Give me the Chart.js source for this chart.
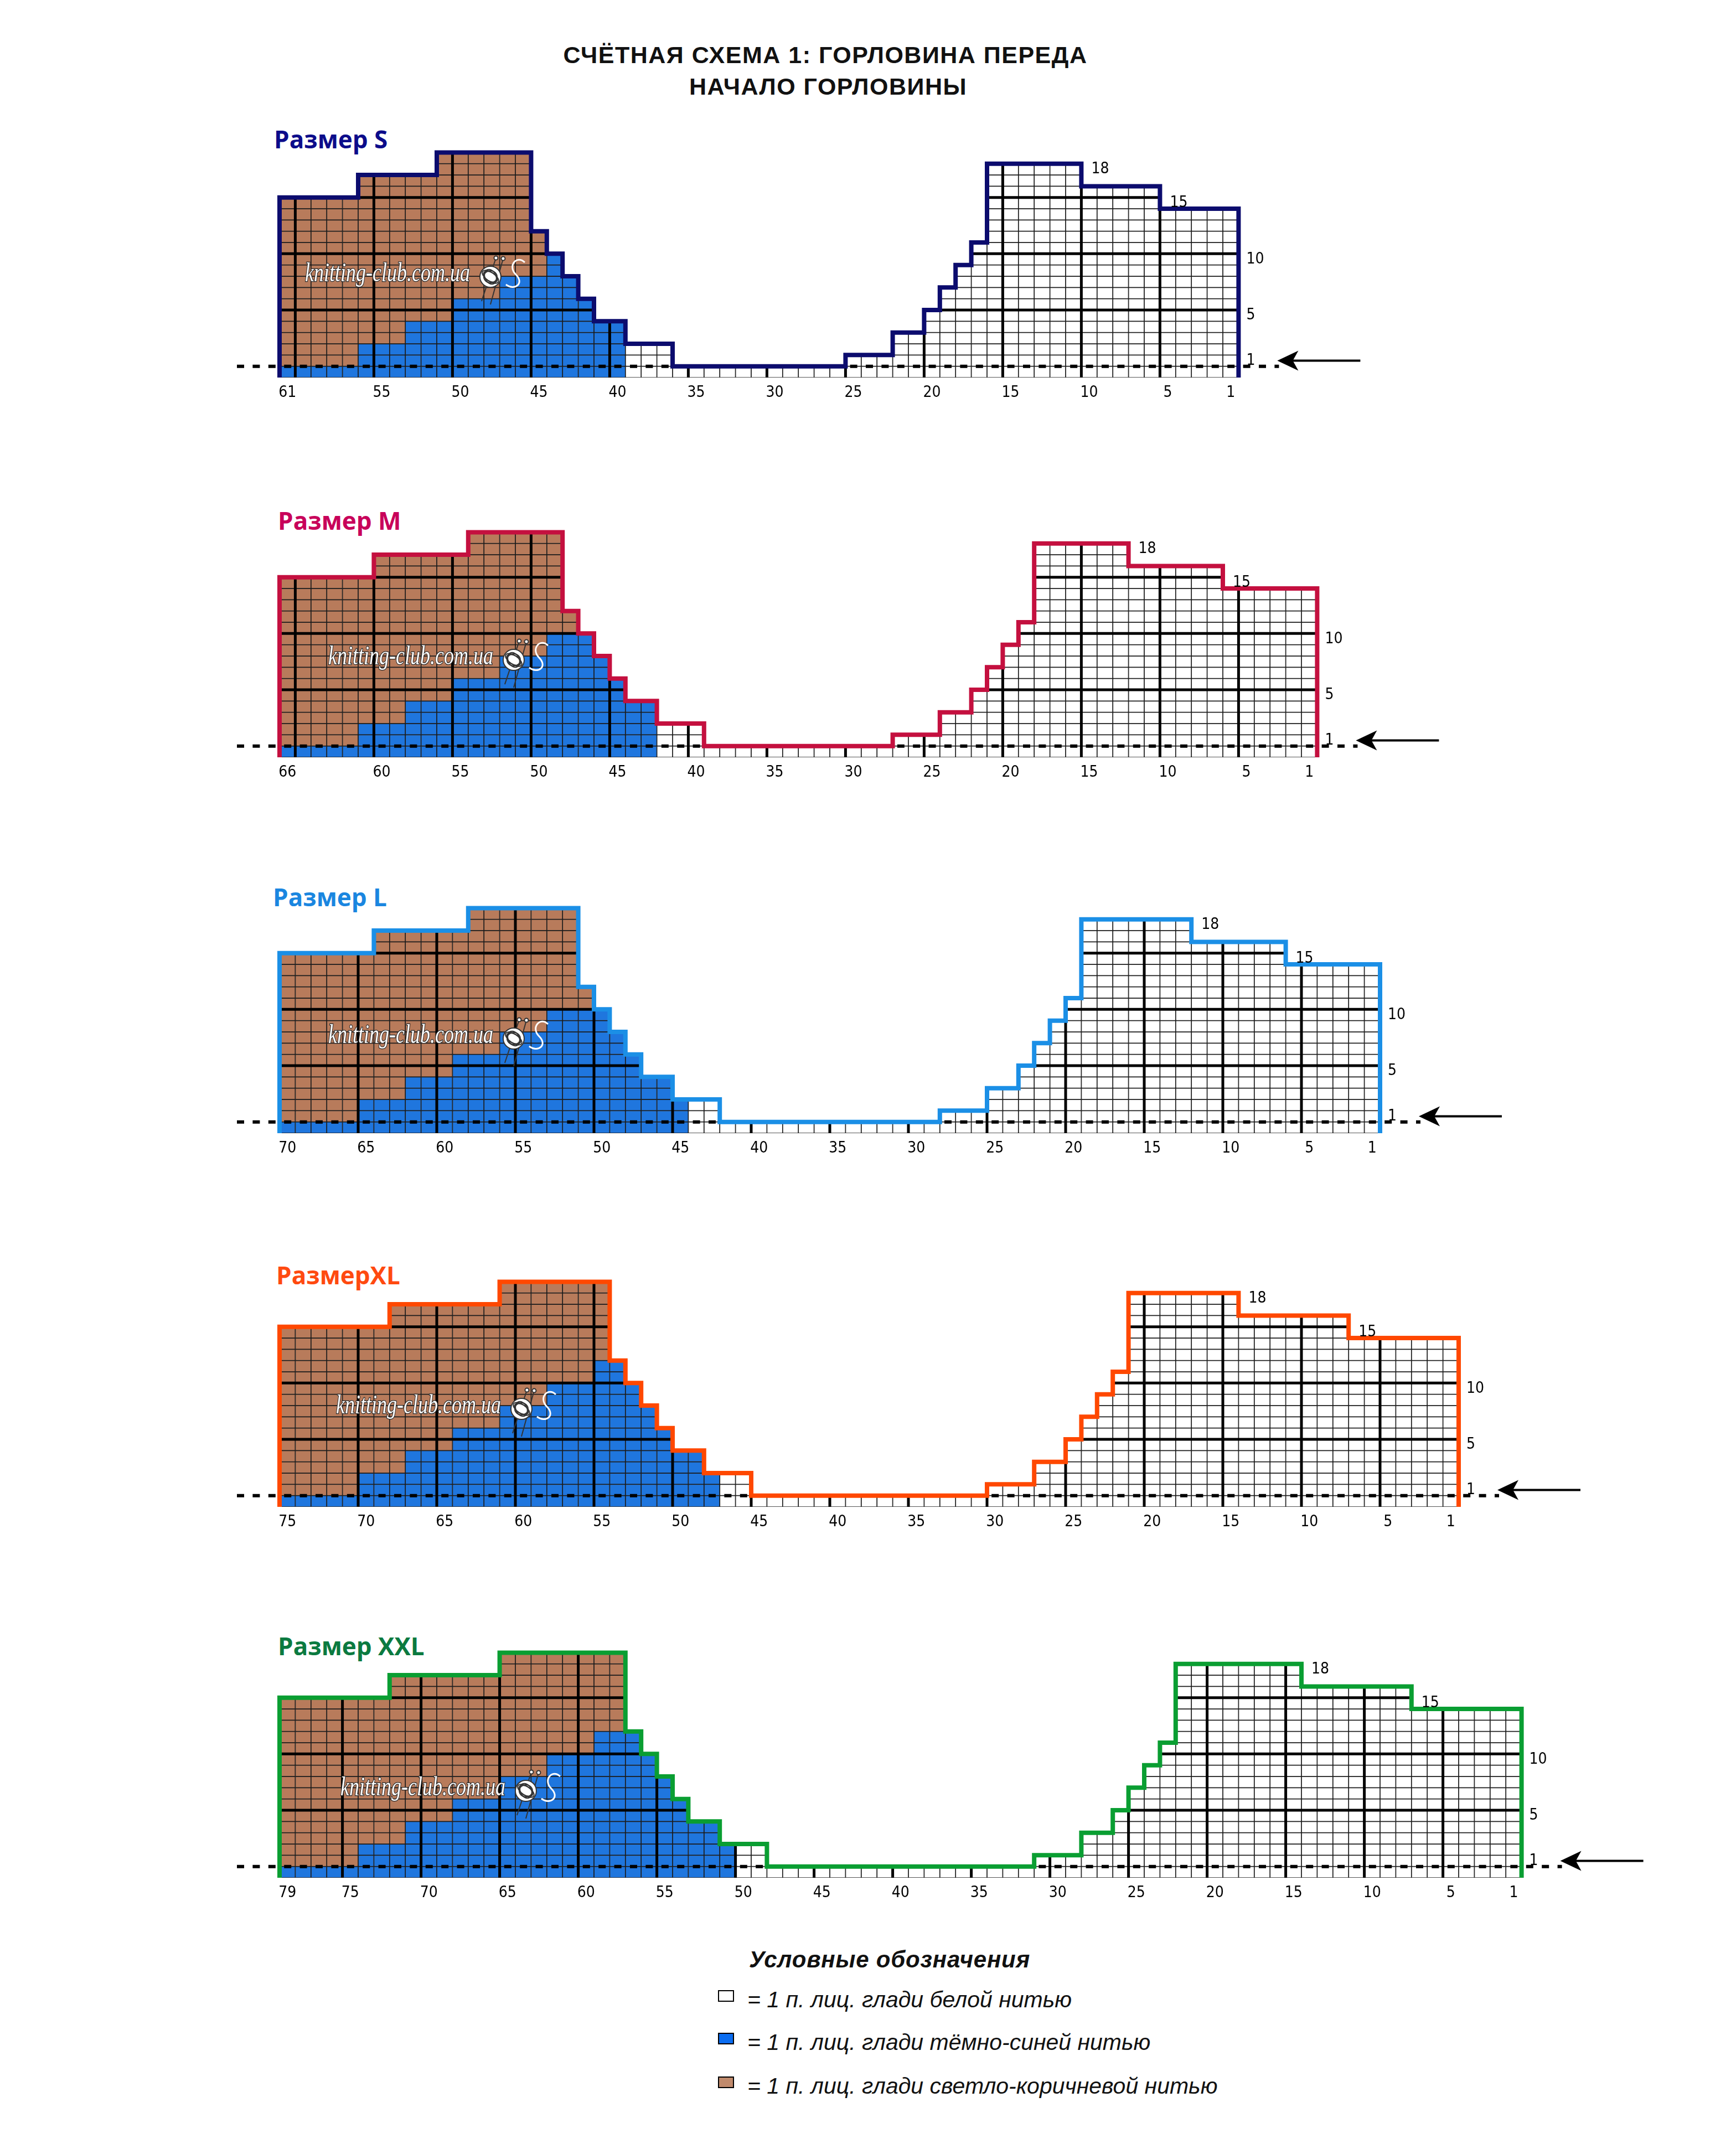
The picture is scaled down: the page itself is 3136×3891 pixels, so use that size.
<!DOCTYPE html>
<html lang="ru">
<head>
<meta charset="utf-8">
<title>Счётная схема 1: горловина переда</title>
<script src="https://cdn.jsdelivr.net/npm/chart.js@4.4.1/dist/chart.umd.min.js"></script>
<style>
  html, body { margin: 0; padding: 0; background: #fff; }
  body { position: relative; width: 3136px; height: 3891px; overflow: hidden; }
  .head { position: absolute; width: 2000px; text-align: center; font: bold 43px/43px "Liberation Sans", Arial, sans-serif; letter-spacing: 1.5px; color: #111; white-space: nowrap; }
  .size { position: absolute; font: bold 44px/44px "Open Sans", "Noto Sans", sans-serif; white-space: nowrap; }
  canvas.knit { position: absolute; left: 0; }
  .legend-title { position: absolute; left: 1353px; top: 3519px; font: italic bold 42px/42px "Liberation Sans", Arial, sans-serif; letter-spacing: 0.8px; color: #111; white-space: nowrap; }
  .legend-row { position: absolute; left: 1350px; font: italic 41px/41px "Liberation Sans", Arial, sans-serif; color: #111; white-space: nowrap; }
  .swatch { position: absolute; left: 1297px; width: 25px; height: 17px; border: 2px solid #000; }
</style>
</head>
<body>

<div class="head" style="left:491px; top:78px;">СЧЁТНАЯ СХЕМА 1: ГОРЛОВИНА ПЕРЕДА</div>
<div class="head" style="left:496px; top:135px;">НАЧАЛО ГОРЛОВИНЫ</div>

<div class="size" style="left:495px; top:229px; color:#0c0c8a;">Размер S</div>
<div class="size" style="left:502px; top:918px; color:#c8005a;">Размер M</div>
<div class="size" style="left:493px; top:1598px; color:#1a86e0;">Размер L</div>
<div class="size" style="left:499px; top:2281px; color:#ff4a10;">РазмерXL</div>
<div class="size" style="left:502px; top:2951px; color:#0b7a40;">Размер XXL</div>

<div class="legend-title">Условные обозначения</div>
<div class="swatch" style="top:3595px; background:#ffffff;"></div>
<div class="legend-row" style="top:3592px;">= 1 п. лиц. глади белой нитью</div>
<div class="swatch" style="top:3672px; background:#0a6cf0;"></div>
<div class="legend-row" style="top:3669px;">= 1 п. лиц. глади тёмно-синей нитью</div>
<div class="swatch" style="top:3751px; background:#c08a6c;"></div>
<div class="legend-row" style="top:3748px;">= 1 п. лиц. глади светло-коричневой нитью</div>

<script>
// высота каждого столбца в рядах (слева направо: от последней петли к 1-й)
const heightS = [16,16,16,16,16, 18,18,18,18,18, 20,20,20,20,20,20, 13, 11, 9, 7, 5,5, 3,3,3,
  1,1,1,1,1,1,1,1,1,1,1, 2,2,2, 4,4, 6, 8, 10, 12, 19,19,19,19,19,19, 17,17,17,17,17, 15,15,15,15,15];
const heightM = [16,16,16,16,16,16, 18,18,18,18,18,18, 20,20,20,20,20,20, 13, 11, 9, 7, 5,5, 3,3,3,
  1,1,1,1,1,1,1,1,1,1,1,1, 2,2,2, 4,4, 6, 8, 10, 12, 19,19,19,19,19,19, 17,17,17,17,17,17, 15,15,15,15,15,15];
const heightL = [16,16,16,16,16,16, 18,18,18,18,18,18, 20,20,20,20,20,20,20, 13, 11, 9, 7, 5,5, 3,3,3,
  1,1,1,1,1,1,1,1,1,1,1,1,1,1, 2,2,2, 4,4, 6, 8, 10, 12, 19,19,19,19,19,19,19, 17,17,17,17,17,17, 15,15,15,15,15,15];
const heightXL = [16,16,16,16,16,16,16, 18,18,18,18,18,18,18, 20,20,20,20,20,20,20, 13, 11, 9, 7, 5,5, 3,3,3,
  1,1,1,1,1,1,1,1,1,1,1,1,1,1,1, 2,2,2, 4,4, 6, 8, 10, 12, 19,19,19,19,19,19,19, 17,17,17,17,17,17,17, 15,15,15,15,15,15,15];
const heightXXL = [16,16,16,16,16,16,16, 18,18,18,18,18,18,18, 20,20,20,20,20,20,20,20, 13, 11, 9, 7, 5,5, 3,3,3,
  1,1,1,1,1,1,1,1,1,1,1,1,1,1,1,1,1, 2,2,2, 4,4, 6, 8, 10, 12, 19,19,19,19,19,19,19,19, 17,17,17,17,17,17,17, 15,15,15,15,15,15,15];

// сколько нижних рядов в столбце вяжется тёмно-синей нитью (выше - светло-коричневая)
const blueS = [1,1,1,1,1, 3,3,3, 5,5,5, 7,7,7, 9,9,9, 11, 9, 7, 5, 5];
const blueM = [1,1,1,1,1, 3,3,3, 5,5,5, 7,7,7, 9,9,9, 11,11,11, 9, 7, 5, 5];
const blueL = [1,1,1,1,1, 3,3,3, 5,5,5, 7,7,7, 9,9,9, 11,11,11, 11, 9, 7, 5, 5, 3];
const blueXL = [1,1,1,1,1, 3,3,3, 5,5,5, 7,7,7, 9,9,9, 11,11,11, 13, 13, 11, 9, 7, 5, 5, 3];
const blueXXL = [1,1,1,1,1, 3,3,3, 5,5,5, 7,7,7, 9,9,9, 11,11,11, 13,13, 13, 11, 9, 7, 5, 5, 3];

// подписи петель внизу и рядов справа
const ticksS = [61, 55, 50, 45, 40, 35, 30, 25, 20, 15, 10, 5, 1];
const ticksM = [66, 60, 55, 50, 45, 40, 35, 30, 25, 20, 15, 10, 5, 1];
const ticksL = [70, 65, 60, 55, 50, 45, 40, 35, 30, 25, 20, 15, 10, 5, 1];
const ticksXL = [75, 70, 65, 60, 55, 50, 45, 40, 35, 30, 25, 20, 15, 10, 5, 1];
const ticksXXL = [79, 75, 70, 65, 60, 55, 50, 45, 40, 35, 30, 25, 20, 15, 10, 5, 1];
const rowLabels = [1, 5, 10, 15, 18];

const BLUE = '#1f76de';
const BROWN = '#b87b5b';
const WHITE = '#ffffff';
const GRID = '#1c1c1c';
const NUM_FONT = '"Liberation Sans Narrow", "DejaVu Sans Condensed", "Liberation Sans", sans-serif';

const PAGE_W = 3136;
const CANVAS_H = 520;
const AREA_BOTTOM = 460;   // низ сетки внутри canvas
const AREA_LEFT = 505;
const COL_W = 28.4;
const ROW_MAX = 20;
const ROW_H = 20.33;

Chart.defaults.font.family = NUM_FONT;

function cellColour(blue, i, r) {
  if (i < blue.length) return r < blue[i] ? BLUE : BROWN;
  return WHITE;
}

// контур горловины по высотам столбцов
function outlinePoints(h) {
  const N = h.length;
  const pts = [{x: N, y: 0}];
  h.forEach((v, i) => {
    const c = N - i;
    pts.push({x: c, y: v}, {x: c - 1, y: v});
  });
  pts.push({x: 0, y: 0});
  return pts;
}

function drawMark(ctx, x0, yb) {
  ctx.save();
  ctx.font = 'italic 36px "Liberation Serif", "DejaVu Serif", serif';
  ctx.translate(x0, yb);
  ctx.scale(1, 1.35);
  ctx.lineWidth = 2;
  ctx.strokeStyle = '#2a2a2a';
  ctx.fillStyle = '#ffffff';
  ctx.strokeText('knitting-club.com.ua', 0, 0);
  ctx.fillText('knitting-club.com.ua', 0, 0);
  const w = ctx.measureText('knitting-club.com.ua').width;
  ctx.restore();

  // клубок со спицами
  const cx = x0 + w + 37, cy = yb - 8;
  ctx.save();
  ctx.strokeStyle = '#333';
  ctx.lineWidth = 2;
  ctx.fillStyle = '#fff';
  [[10, -34, -16, 44], [23, -33, 0, 50]].forEach(n => {
    ctx.beginPath(); ctx.moveTo(cx + n[0], cy + n[1]); ctx.lineTo(cx + n[2], cy + n[3]); ctx.stroke();
  });
  ctx.beginPath(); ctx.arc(cx, cy, 19, 0, Math.PI * 2); ctx.fill(); ctx.stroke();
  for (let k = 0; k < 4; k++) {
    ctx.beginPath(); ctx.ellipse(cx, cy, 17 - k * 3, 8 + k * 2, 0.6 + k * 0.5, 0, Math.PI * 2); ctx.stroke();
  }
  [[10, -34], [23, -33]].forEach(n => {
    ctx.beginPath(); ctx.arc(cx + n[0], cy + n[1], 3.5, 0, Math.PI * 2); ctx.fill(); ctx.stroke();
  });
  ctx.strokeStyle = '#fff';
  ctx.lineWidth = 3;
  ctx.beginPath();
  ctx.moveTo(cx + 62, cy - 26);
  ctx.bezierCurveTo(cx + 48, cy - 40, cx + 30, cy - 20, cx + 46, cy - 4);
  ctx.bezierCurveTo(cx + 62, cy + 12, cx + 44, cy + 26, cx + 28, cy + 14);
  ctx.stroke();
  ctx.restore();
}

const knitPlugin = {
  id: 'knit',
  beforeDatasetDraw(chart, args, opts) {
    if (args.meta.type !== 'line') return;
    const ctx = chart.ctx, xs = chart.scales.x, ys = chart.scales.y;
    const h = opts.heights, N = h.length;
    ctx.save();
    ctx.strokeStyle = '#000';
    ctx.lineWidth = 5;
    ctx.lineCap = 'butt';
    // толстые линии каждые 5 петель
    for (let b = 5; b < N; b += 5) {
      const top = Math.min(h[N - b], h[N - b - 1]);
      const px = xs.getPixelForValue(b);
      ctx.beginPath(); ctx.moveTo(px, ys.getPixelForValue(0)); ctx.lineTo(px, ys.getPixelForValue(top)); ctx.stroke();
    }
    // толстые линии каждые 5 рядов
    for (let yb = 6; yb < ROW_MAX; yb += 5) {
      const py = ys.getPixelForValue(yb);
      let start = null;
      for (let i = 0; i <= N; i++) {
        const on = i < N && h[i] > yb;
        if (on && start === null) start = i;
        if (!on && start !== null) {
          ctx.beginPath(); ctx.moveTo(xs.getPixelForValue(N - start), py); ctx.lineTo(xs.getPixelForValue(N - i), py); ctx.stroke();
          start = null;
        }
      }
    }
    // пунктир - линия начала горловины
    const area = chart.chartArea;
    const dy = ys.getPixelForValue(1);
    ctx.lineWidth = 6;
    ctx.setLineDash([13, 15.4]);
    ctx.beginPath(); ctx.moveTo(area.left - 77, dy); ctx.lineTo(area.right + 73, dy); ctx.stroke();
    ctx.restore();
  },
  afterDatasetsDraw(chart, args, opts) {
    const ctx = chart.ctx, xs = chart.scales.x, ys = chart.scales.y;
    const h = opts.heights, N = h.length, area = chart.chartArea;
    ctx.save();
    ctx.fillStyle = '#000';
    ctx.font = '28px ' + NUM_FONT;
    ctx.textAlign = 'left';
    ctx.textBaseline = 'middle';
    rowLabels.forEach(r => {
      let i = N - 1;
      while (i > 0 && h[i] <= r) i--;
      const c = N - i;
      ctx.fillText(String(r), xs.getPixelForValue(c - 1) + (c > 1 ? 18 : 14), ys.getPixelForValue(r + 0.5));
    });
    // стрелка направления вязания
    const ay = ys.getPixelForValue(1.5), tip = area.right + 70;
    ctx.strokeStyle = '#000';
    ctx.lineWidth = 4;
    ctx.beginPath(); ctx.moveTo(tip + 20, ay); ctx.lineTo(tip + 150, ay); ctx.stroke();
    ctx.beginPath();
    ctx.moveTo(tip, ay);
    ctx.lineTo(tip + 38, ay - 18);
    ctx.lineTo(tip + 28, ay);
    ctx.lineTo(tip + 38, ay + 18);
    ctx.closePath();
    ctx.fill();
    ctx.restore();
    drawMark(ctx, area.left + opts.markDx, ys.getPixelForValue(opts.markRow));
  }
};

function knitChart(heights, blue, ticks, colour, bottom, markDx, markRow) {
  const N = heights.length;
  const canvas = document.createElement('canvas');
  canvas.width = PAGE_W;
  canvas.height = CANVAS_H;
  canvas.className = 'knit';
  canvas.style.top = (bottom - AREA_BOTTOM) + 'px';
  document.body.appendChild(canvas);

  const datasets = [];
  for (let r = 0; r < ROW_MAX; r++) {
    const pts = [], cols = [];
    heights.forEach((hv, i) => {
      if (r < hv) {
        pts.push({x: N - i - 0.5, y: [r, r + 1]});
        cols.push(cellColour(blue, i, r));
      }
    });
    datasets.push({
      type: 'bar', data: pts, backgroundColor: cols,
      borderColor: GRID, borderWidth: 1.2, borderSkipped: false,
      grouped: false, barPercentage: 1, categoryPercentage: 1, order: 2
    });
  }
  datasets.push({
    type: 'line', data: outlinePoints(heights), borderColor: colour, borderWidth: 8,
    pointRadius: 0, fill: false, tension: 0, clip: false, borderJoinStyle: 'miter', order: 1
  });

  const padTop = AREA_BOTTOM - ROW_MAX * ROW_H;
  const chart = new Chart(canvas.getContext('2d'), {
    type: 'bar',
    data: {datasets: datasets},
    plugins: [knitPlugin],
    options: {
      responsive: false, animation: false, events: [], devicePixelRatio: 1,
      layout: {padding: {left: AREA_LEFT, right: PAGE_W - AREA_LEFT - N * COL_W, top: padTop, bottom: 16}},
      plugins: {
        legend: {display: false}, tooltip: {enabled: false},
        knit: {heights: heights, markDx: markDx, markRow: markRow}
      },
      scales: {
        x: {
          type: 'linear', reverse: true, min: 0, max: N, offset: false,
          grid: {display: false, drawTicks: false}, border: {display: false},
          afterBuildTicks: s => { s.ticks = ticks.map(c => ({value: c - 0.5})); },
          ticks: {autoSkip: false, maxRotation: 0, padding: 11, color: '#000', font: {size: 28},
                  callback: v => String(Math.round(v + 0.5))}
        },
        y: {type: 'linear', min: 0, max: ROW_MAX, display: false}
      }
    }
  });
  // подгоняем нижний отступ, чтобы низ сетки лёг ровно на свою строку страницы
  chart.options.layout.padding = {left: AREA_LEFT, right: PAGE_W - AREA_LEFT - N * COL_W, top: padTop,
                                  bottom: CANVAS_H - AREA_BOTTOM - chart.scales.x.height};
  chart.update();
  return chart;
}

knitChart(heightS, blueS, ticksS, '#0c0c6e', 681.7, 46, 8.56);
knitChart(heightM, blueM, ticksM, '#c4103f', 1368.3, 88, 8.26);
knitChart(heightL, blueL, ticksL, '#1b8fe6', 2046.7, 88, 8.02);
knitChart(heightXL, blueXL, ticksXL, '#ff4800', 2721.7, 102, 8.31);
knitChart(heightXXL, blueXXL, ticksXXL, '#0a9e32', 3391.7, 110, 7.33);
</script>
</body>
</html>
